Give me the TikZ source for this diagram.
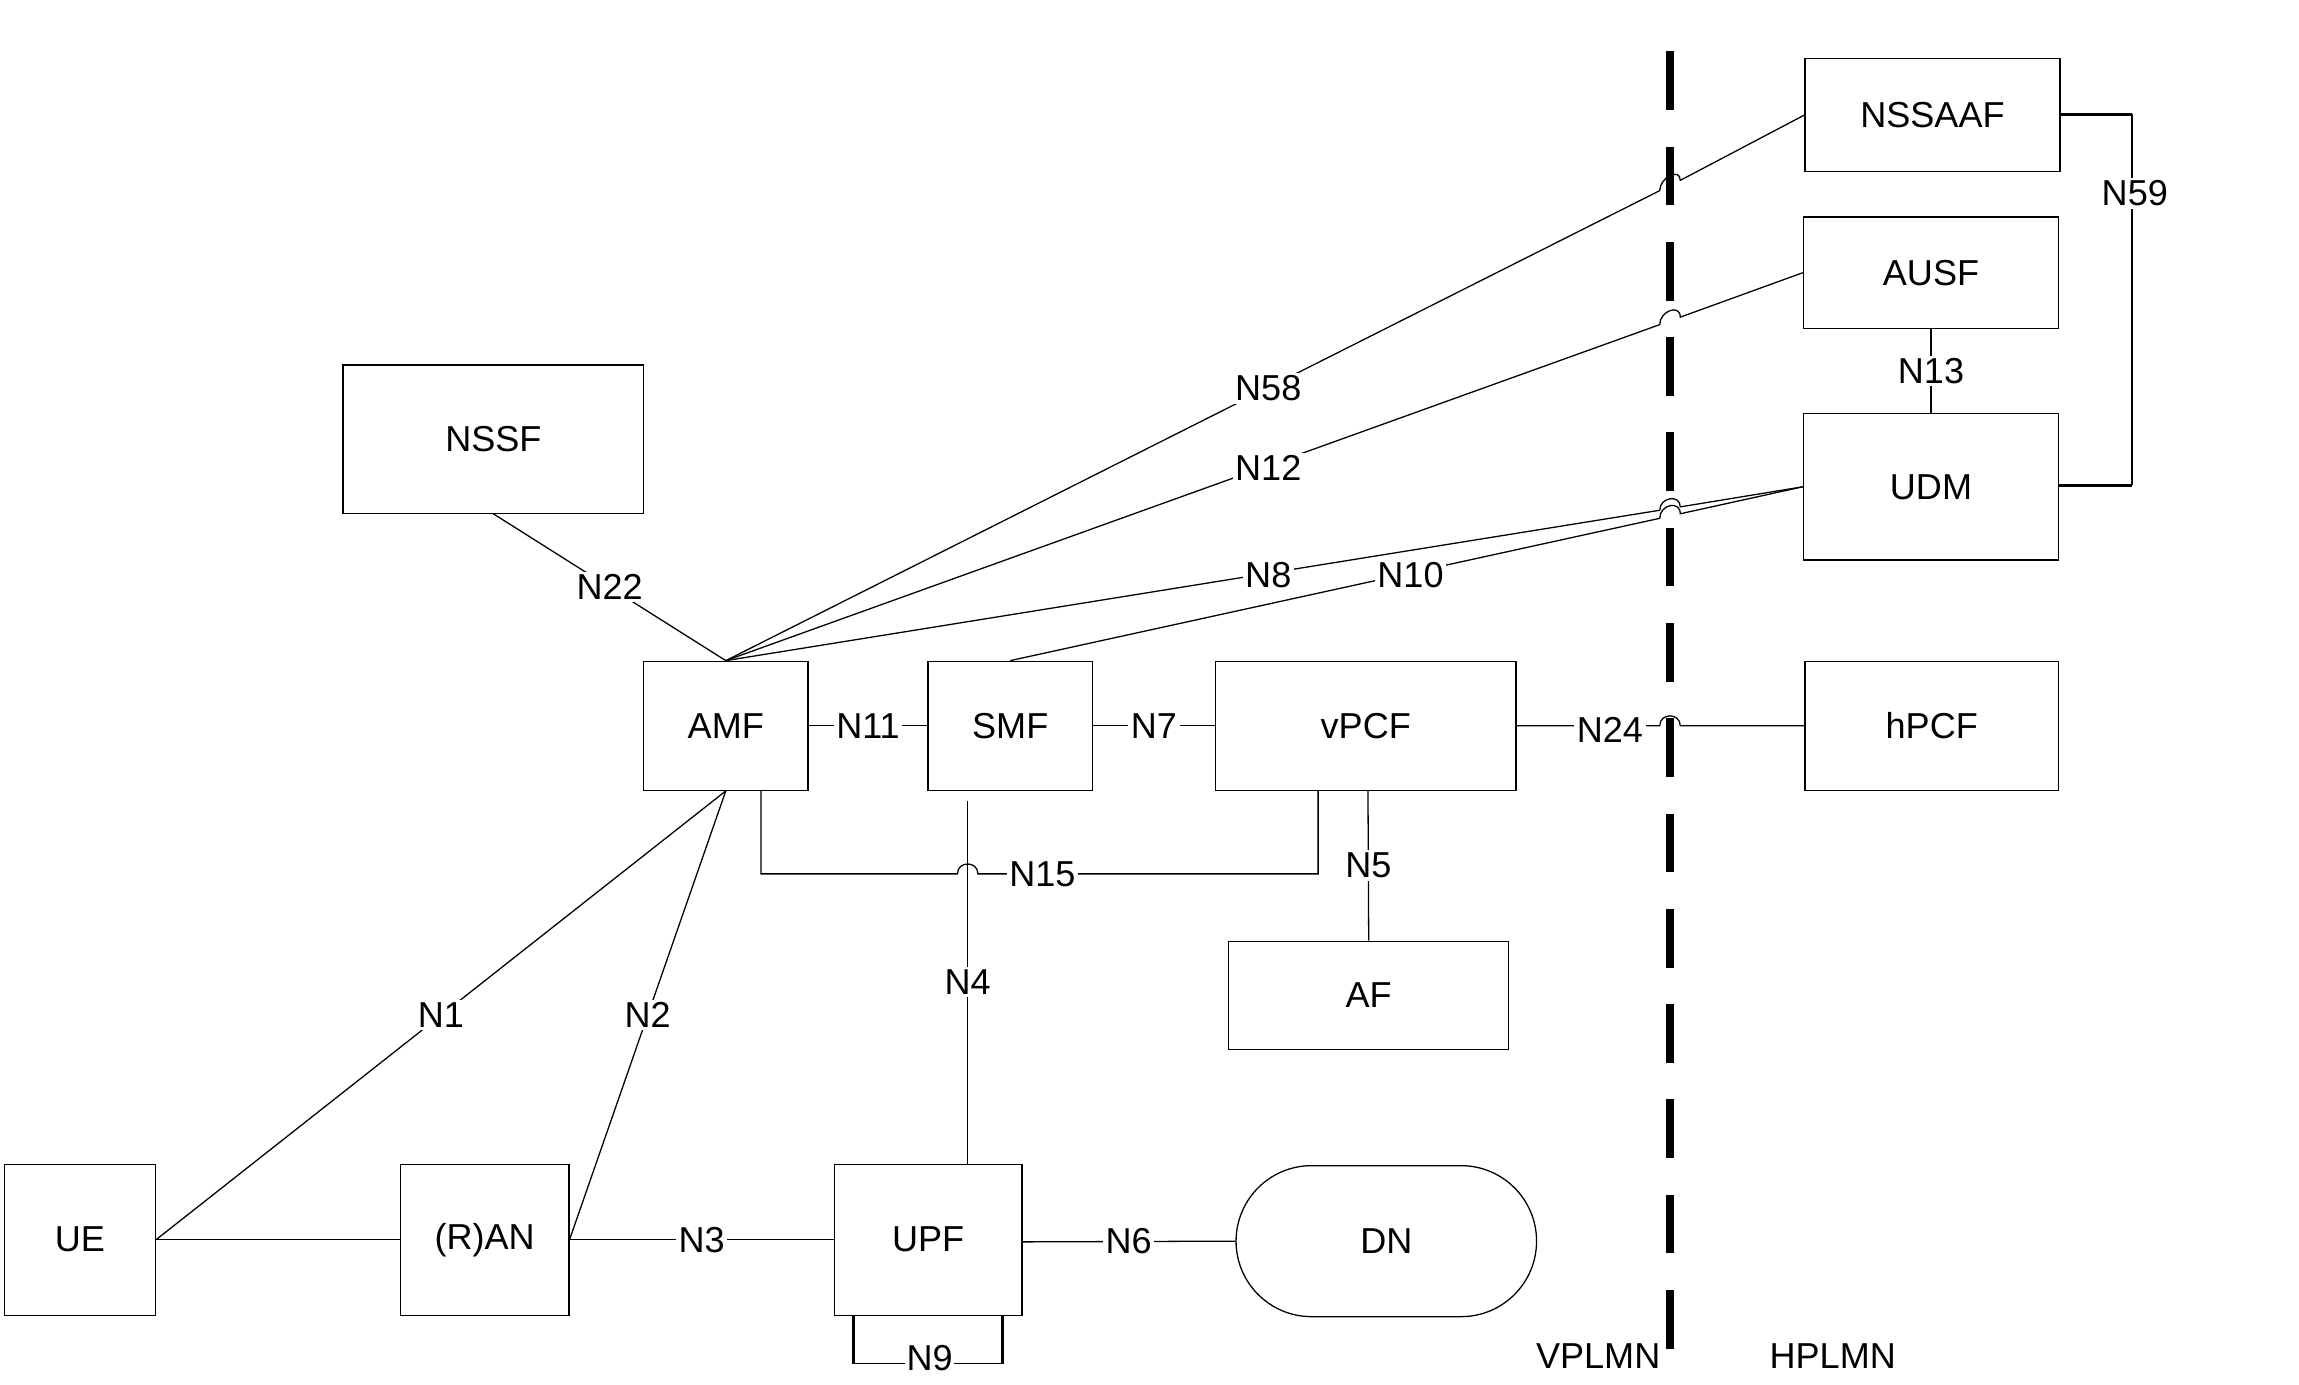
\documentclass[tikz,border=0pt]{standalone}
\usepackage{fontspec}
\setmainfont{Liberation Sans}
\begin{document}
\begin{tikzpicture}[x=0.02cm,y=-0.02cm,
  box/.style={draw,line width=0.5pt,inner sep=0pt},
  lbl/.style={fill=white,inner sep=1pt,font=\fontsize{14}{16}\selectfont},
  ln/.style={line width=0.5pt},
  every node/.append style={font=\fontsize{14}{16}\selectfont}]
\useasboundingbox (0,0) rectangle (1568,944);
\newcommand{\bx}[5]{\node[box,minimum width={(#4-#2)*0.02cm},minimum height={(#5-#3)*0.02cm}] (#1) at ({(#2+#4)/2},{(#3+#5)/2}) {};}
\bx{nssaaf}{1231}{40}{1405}{117}\node at (nssaaf) {NSSAAF};
\bx{ausf}{1230}{148}{1404}{224}\node at (ausf) {AUSF};
\bx{udm}{1230}{282}{1404}{382}\node at (udm) {UDM};
\bx{hpcf}{1231}{451}{1404}{539}\node at (hpcf) {hPCF};
\bx{nssf}{234}{249}{439}{350}\node at (nssf) {NSSF};
\bx{amf}{439}{451}{551}{539}\node at (amf) {AMF};
\bx{smf}{633}{451}{745}{539}\node at (smf) {SMF};
\bx{vpcf}{829}{451}{1034}{539}\node at (vpcf) {vPCF};
\bx{af}{838}{642}{1029}{716}\node at (af) {AF};
\bx{ue}{3}{794}{106}{897}\node at (ue) {UE};
\bx{ran}{273}{794}{388}{897}\node at (ran) {(R)AN};
\bx{upf}{569}{794}{697}{897}\node at (upf) {UPF};
\node[draw,line width=0.5pt,rounded corners=1.03cm,minimum width=4.1cm,minimum height=2.06cm] (dn) at (945.5,846.5) {DN};
% dashed boundary
\coordinate (bt) at (1139,35); \coordinate (bb) at (1139,944);
\draw[line width=3.4pt,dash pattern=on 0.8cm off 0.5cm] (bt) -- (bb);
% connectors with hops
\draw[ln] (amf.north) -- (1132,130) .. controls (1132,121) and (1146,114) .. (1146,123) -- (nssaaf.west);
\node[lbl] at (865,265) {N58};
\draw[ln] (amf.north) -- (1132,221.4) .. controls (1132,212) and (1146,207) .. (1146,216.3) -- (ausf.west);
\node[lbl] at (865,319) {N12};
\draw[ln] (amf.north) -- (1132,348) .. controls (1132,339) and (1146,337) .. (1146,345.7) -- (udm.west);
\node[lbl] at (865,392) {N8};
\draw[ln] (smf.north) -- (1132,353.5) .. controls (1132,344) and (1146,341) .. (1146,350.4) -- (udm.west);
\node[lbl] at (962,392) {N10};
\draw[ln] (vpcf.east) -- (1132,495) .. controls (1132,486) and (1146,486) .. (1146,495) -- (hpcf.west);
\node[lbl] at (1098,498) {N24};
\draw[ln] (ausf.south) -- (udm.north) node[midway,lbl] {N13};
\coordinate (a59) at (1454,78); \coordinate (b59) at (1454,331);
\draw[line width=1.2pt] (nssaaf.east |- a59) -- (a59);
\draw[line width=1.2pt] (udm.east |- b59) -- (b59);
\draw[ln] (a59) -- (b59);
\node[lbl] at (1456,132) {N59};
\draw[ln] (nssf.south) -- (amf.north) node[pos=0.5,lbl] {N22};
\draw[ln] (amf) -- (smf) node[midway,lbl] {N11};
\draw[ln] (smf) -- (vpcf) node[midway,lbl] {N7};
\coordinate (s4) at (660,546);
\draw[ln] (s4) -- (660,794) node[pos=0.5,lbl] {N4};
\draw[ln] (519,539) -- (519,596) -- (653,596) .. controls (653,587) and (667,587) .. (667,596) -- (899,596) -- (899,539);
\node[lbl] at (711,596) {N15};
\draw[ln] (933,539) -- (af.north) node[pos=0.5,lbl] {N5};
\draw[ln] (amf.south) -- (ue.east) node[pos=0.5,lbl] {N1};
\draw[ln] (amf.south) -- (ran.east) node[pos=0.5,lbl] {N2};
\draw[ln] (ue.east) -- (ran.west);
\draw[ln] (ran.east) -- (upf.west) node[pos=0.5,lbl] {N3};
\draw[ln] (697,847) -- (dn.west) node[pos=0.5,lbl] {N6};
\draw[line width=1.2pt] (582,897) -- (582,930);
\draw[line width=1.2pt] (684,897) -- (684,930);
\draw[ln] (582,930) -- (684,930);
\node[lbl,inner sep=0.5pt] at (634,926) {N9};
\node at (1090,925) {VPLMN};
\node at (1250,925) {HPLMN};
\end{tikzpicture}
\end{document}
